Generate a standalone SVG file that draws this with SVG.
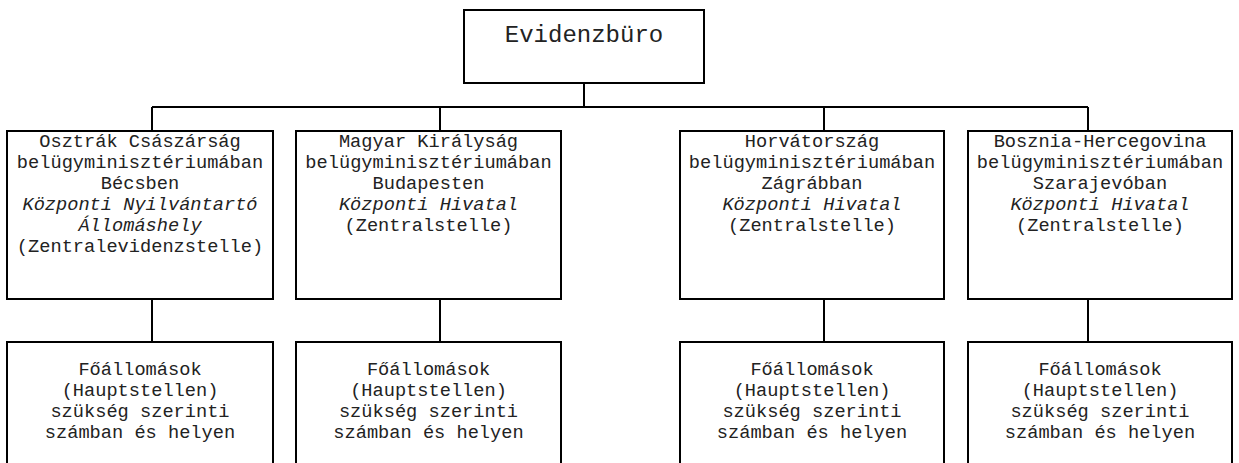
<svg xmlns="http://www.w3.org/2000/svg" width="1239" height="463" viewBox="0 0 1239 463">
<style>
.box{fill:#fff;stroke:#000;stroke-width:2}
.ln{fill:none;stroke:#000;stroke-width:2}
text{font-family:"Courier New","Nimbus Mono PS","FreeMono","Liberation Mono",monospace;font-size:18.67px;fill:#222;text-anchor:middle}
.it{font-style:italic}
.big{font-size:24px}
</style>
<rect width="1239" height="463" fill="#fff"/>
<g id="connectors">
<path class="ln" d="M584 83V107M152 107H1088M152 107V131M440 107V131M824 107V131M1088 107V131"/>
<path class="ln" d="M152 299V342M440 299V342M824 299V342M1088 299V342"/>
</g>
<g id="evidenzburo">
<rect class="box" x="464" y="10" width="240" height="73"/>
<text class="big" x="584" y="42">Evidenzbüro</text>
</g>
<g id="osztrak">
<rect class="box" x="7" y="131" width="266" height="168"/>
<text x="140" y="147">Osztrák Császárság</text>
<text x="140" y="168">belügyminisztériumában</text>
<text x="140" y="189">Bécsben</text>
<text class="it" x="140" y="210">Központi Nyilvántartó</text>
<text class="it" x="140" y="231">Állomáshely</text>
<text x="140" y="252">(Zentralevidenzstelle)</text>
</g>
<g id="magyar">
<rect class="box" x="296" y="131" width="265" height="168"/>
<text x="428.5" y="147">Magyar Királyság</text>
<text x="428.5" y="168">belügyminisztériumában</text>
<text x="428.5" y="189">Budapesten</text>
<text class="it" x="428.5" y="210">Központi Hivatal</text>
<text x="428.5" y="231">(Zentralstelle)</text>
</g>
<g id="horvat">
<rect class="box" x="680" y="131" width="264" height="168"/>
<text x="812" y="147">Horvátország</text>
<text x="812" y="168">belügyminisztériumában</text>
<text x="812" y="189">Zágrábban</text>
<text class="it" x="812" y="210">Központi Hivatal</text>
<text x="812" y="231">(Zentralstelle)</text>
</g>
<g id="bosznia">
<rect class="box" x="968" y="131" width="264" height="168"/>
<text x="1100" y="147">Bosznia-Hercegovina</text>
<text x="1100" y="168">belügyminisztériumában</text>
<text x="1100" y="189">Szarajevóban</text>
<text class="it" x="1100" y="210">Központi Hivatal</text>
<text x="1100" y="231">(Zentralstelle)</text>
</g>
<g id="fo1">
<rect class="box" x="7" y="342" width="266" height="140"/>
<text x="140" y="375">Főállomások</text>
<text x="140" y="396">(Hauptstellen)</text>
<text x="140" y="417">szükség szerinti</text>
<text x="140" y="438">számban és helyen</text>
</g>
<g id="fo2">
<rect class="box" x="296" y="342" width="265" height="140"/>
<text x="428.5" y="375">Főállomások</text>
<text x="428.5" y="396">(Hauptstellen)</text>
<text x="428.5" y="417">szükség szerinti</text>
<text x="428.5" y="438">számban és helyen</text>
</g>
<g id="fo3">
<rect class="box" x="680" y="342" width="264" height="140"/>
<text x="812" y="375">Főállomások</text>
<text x="812" y="396">(Hauptstellen)</text>
<text x="812" y="417">szükség szerinti</text>
<text x="812" y="438">számban és helyen</text>
</g>
<g id="fo4">
<rect class="box" x="968" y="342" width="264" height="140"/>
<text x="1100" y="375">Főállomások</text>
<text x="1100" y="396">(Hauptstellen)</text>
<text x="1100" y="417">szükség szerinti</text>
<text x="1100" y="438">számban és helyen</text>
</g>
</svg>
